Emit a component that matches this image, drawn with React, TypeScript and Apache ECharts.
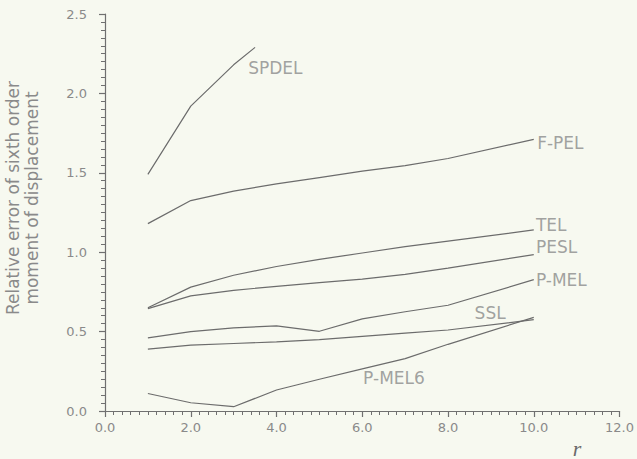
import React, { useEffect, useRef } from "react";
import * as echarts from "echarts";

// r values where each method was evaluated
const rValues = [1, 2, 3, 4, 5, 6, 7, 8, 10];
const spdelR = [1, 2, 3, 3.5];

// relative error values
const spdel = [1.49, 1.92, 2.18, 2.29];
const fpel = [1.18, 1.325, 1.385, 1.43, 1.47, 1.51, 1.545, 1.59, 1.71];
const tel = [0.65, 0.78, 0.855, 0.91, 0.955, 0.995, 1.035, 1.07, 1.14];
const pesl = [0.645, 0.725, 0.76, 0.785, 0.808, 0.83, 0.86, 0.9, 0.985];
const pmel = [0.46, 0.5, 0.523, 0.536, 0.502, 0.58, 0.625, 0.666, 0.827];
const ssl = [0.39, 0.415, 0.425, 0.435, 0.45, 0.47, 0.49, 0.51, 0.575];
const pmel6 = [0.11, 0.052, 0.027, 0.132, 0.2, 0.265, 0.33, 0.42, 0.59];

// curve names and where their labels sit (data coordinates)
const seriesNames = ["SPDEL", "F-PEL", "TEL", "PESL", "P-MEL", "SSL", "P-MEL6"];
const labelX = [3.34, 10.08, 10.05, 10.05, 10.05, 8.62, 6.02];
const labelY = [2.16, 1.69, 1.17, 1.03, 0.823, 0.616, 0.207];

// axis tick settings
const xMin = 0, xMax = 12, xStep = 2;
const yMin = 0, yMax = 2.5, yStep = 0.5;

const LINE = "#6c6c6c";
const TEXT = "#8a8a8a";
const BG = "#f7f9f0";

function makeAxis(min: number, max: number, step: number, margin: number) {
  const a: any = {
    type: "value",
    min,
    max,
    interval: step,
    axisLine: { show: true, lineStyle: { color: "#707070", width: 1.2 } },
    axisTick: { show: true, length: 6, lineStyle: { color: "#707070", width: 1.2 } },
    minorTick: { show: true, splitNumber: 10, length: 4, lineStyle: { color: "#707070", width: 1 } },
    splitLine: { show: false },
    axisLabel: {
      color: TEXT,
      fontSize: 13,
      fontFamily: "DejaVu Sans",
      margin,
      formatter: (x: number) => x.toFixed(1),
    },
  };
  return a;
}

export default function App() {
  const ref = useRef<HTMLDivElement>(null);
  useEffect(() => {
    if (!ref.current) return;
    const chart = echarts.init(ref.current, null, { renderer: "svg" });
    const allX = [spdelR, rValues, rValues, rValues, rValues, rValues, rValues];
    const allY = [spdel, fpel, tel, pesl, pmel, ssl, pmel6];
    const lineSeries: any[] = allY.map((vals, k) => ({
      type: "line",
      name: seriesNames[k],
      symbol: "none",
      lineStyle: { color: LINE, width: 1.2 },
      data: vals.map((v, i) => [allX[k][i], v]),
    }));
    chart.setOption({
      animation: false,
      backgroundColor: BG,
      grid: { left: 105, right: 14, top: 14, bottom: 48 },
      xAxis: makeAxis(xMin, xMax, xStep, 10),
      yAxis: makeAxis(yMin, yMax, yStep, 18),
      series: [
        ...lineSeries,
        {
          type: "scatter",
          symbolSize: 0,
          data: seriesNames.map((n, i) => [labelX[i], labelY[i], n]),
          label: {
            show: true,
            position: "right",
            distance: 0,
            color: TEXT,
            fontSize: 17,
            fontFamily: "DejaVu Sans",
            formatter: (p: any) => p.data[2],
          },
        },
      ],
      graphic: [
        {
          type: "text",
          x: 22,
          y: 198,
          rotation: Math.PI / 2,
          style: {
            text: "Relative error of sixth order\nmoment of displacement",
            fill: TEXT,
            font: '17px "DejaVu Sans"',
            align: "center",
            verticalAlign: "middle",
            lineHeight: 19,
          },
        },
        {
          type: "text",
          x: 577,
          y: 448,
          style: {
            text: "r",
            fill: "#6a6a6a",
            font: 'italic 22px "Liberation Serif"',
            align: "center",
            verticalAlign: "middle",
          },
        },
      ],
    });
    return () => chart.dispose();
  }, []);
  return (
    <div
      ref={ref}
      style={{ position: "absolute", left: 0, top: 0, width: 637, height: 459 }}
    />
  );
}
